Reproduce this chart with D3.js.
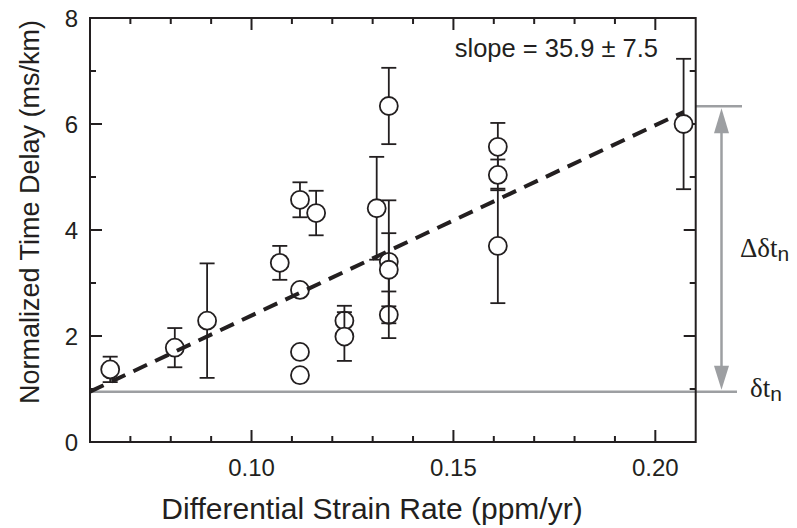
<!DOCTYPE html>
<html>
<head>
<meta charset="utf-8">
<script src="https://cdn.jsdelivr.net/npm/d3@7"></script>
<style>
  html, body { margin: 0; padding: 0; background: #fff; }
  svg { display: block; }
  text { font-family: "Liberation Sans", Arial, Helvetica, sans-serif; fill: #231f20; }
</style>
</head>
<body>
<svg id="chart" width="797" height="528"></svg>
<script>
// ---- data ----
const strainRate = [0.065, 0.081, 0.089, 0.107, 0.112, 0.112, 0.112, 0.112, 0.116, 0.123, 0.123, 0.131, 0.134, 0.134, 0.134, 0.134, 0.161, 0.161, 0.161, 0.207];
const timeDelay  = [1.37, 1.78, 2.29, 3.38, 4.57, 2.87, 1.70, 1.26, 4.32, 2.29, 1.99, 4.41, 6.34, 2.40, 3.40, 3.25, 5.57, 5.04, 3.70, 6.00];
const delayError = [0.24, 0.37, 1.08, 0.32, 0.33, 0, 0, 0, 0.42, 0.28, 0.46, 0.97, 0.72, 0.44, 1.16, 0.69, 0.45, 0.29, 1.08, 1.23];

const xMajorTicks = [0.10, 0.15, 0.20];
const xMinorTicks = [0.07, 0.08, 0.09, 0.11, 0.12, 0.13, 0.14, 0.16, 0.17, 0.18, 0.19];
const yMajorTicks = [0, 2, 4, 6, 8];
const yMinorTicks = [1, 3, 5, 7];

const fitSlope = 35.9;
const fitSlopeError = 7.5;
const baseDelay = 0.95;         // δt_n level (fit value at x = 0.06)
const fitXRange = [0.06, 0.207];

const xTitle = "Differential Strain Rate (ppm/yr)";
const yTitle = "Normalized Time Delay (ms/km)";

// ---- layout ----
const svg = d3.select("#chart");
const L = 90, R = 695.7, T = 18, B = 442;
const x = d3.scaleLinear().domain([0.06, 0.21]).range([L, R]);
const y = d3.scaleLinear().domain([0, 8]).range([B, T]);
const ink = "#231f20";
const grey = "#9d9fa2";
const fitY = v => baseDelay + fitSlope * (v - fitXRange[0]);

// baseline grey line δt_n
svg.append("line")
  .attr("x1", L).attr("x2", 737)
  .attr("y1", y(baseDelay)).attr("y2", y(baseDelay))
  .attr("stroke", grey).attr("stroke-width", 2.5);
// top grey line
svg.append("line")
  .attr("x1", R).attr("x2", 742)
  .attr("y1", y(fitY(0.21))).attr("y2", y(fitY(0.21)))
  .attr("stroke", grey).attr("stroke-width", 2.5);

// arrow
const ax = 721.5;
const yTop = y(fitY(0.21)), yBot = y(baseDelay);
svg.append("line")
  .attr("x1", ax).attr("x2", ax)
  .attr("y1", yTop + 10).attr("y2", yBot - 10)
  .attr("stroke", grey).attr("stroke-width", 2.5);
svg.append("path")
  .attr("d", `M${ax},${yTop + 2} L${ax - 7.5},${yTop + 27} L${ax + 7.5},${yTop + 27} Z`)
  .attr("fill", grey);
svg.append("path")
  .attr("d", `M${ax},${yBot - 2} L${ax - 7.5},${yBot - 26} L${ax + 7.5},${yBot - 26} Z`)
  .attr("fill", grey);

// labels on the right
const serif = "'Liberation Serif', 'Times New Roman', serif";
const lab1 = svg.append("text")
  .attr("x", 740).attr("y", 257)
  .style("font-family", serif).style("font-size", "27px");
lab1.append("tspan").text("\u0394\u03b4t");
lab1.append("tspan").attr("dy", 4).style("font-size", "21px")
  .style("font-family", "'Liberation Sans', Arial, sans-serif").text("n");

const lab2 = svg.append("text")
  .attr("x", 750).attr("y", 397)
  .style("font-family", serif).style("font-size", "27px");
lab2.append("tspan").text("\u03b4t");
lab2.append("tspan").attr("dy", 4).style("font-size", "21px")
  .style("font-family", "'Liberation Sans', Arial, sans-serif").text("n");

// frame
svg.append("rect")
  .attr("x", L).attr("y", T).attr("width", R - L).attr("height", B - T)
  .attr("fill", "none").attr("stroke", ink).attr("stroke-width", 2);

// ticks (inward, all four sides)
const tickG = svg.append("g").attr("stroke", ink).attr("stroke-width", 2);
function xTicks(vals, len) {
  vals.forEach(v => {
    tickG.append("line").attr("x1", x(v)).attr("x2", x(v)).attr("y1", B).attr("y2", B - len);
    tickG.append("line").attr("x1", x(v)).attr("x2", x(v)).attr("y1", T).attr("y2", T + len);
  });
}
function yTicks(vals, len) {
  vals.forEach(v => {
    tickG.append("line").attr("y1", y(v)).attr("y2", y(v)).attr("x1", L).attr("x2", L + len);
    tickG.append("line").attr("y1", y(v)).attr("y2", y(v)).attr("x1", R).attr("x2", R - len);
  });
}
xTicks(xMajorTicks, 12); xTicks(xMinorTicks, 6);
yTicks(yMajorTicks, 12); yTicks(yMinorTicks, 6);

// tick labels
svg.append("g").selectAll("text").data(xMajorTicks).join("text")
  .attr("x", d => x(d)).attr("y", 476)
  .attr("text-anchor", "middle").style("font-size", "24px")
  .text(d => d3.format(".2f")(d));
svg.append("g").selectAll("text").data(yMajorTicks).join("text")
  .attr("x", 78).attr("y", d => y(d) + 8.5)
  .attr("text-anchor", "end").style("font-size", "24px")
  .text(d => d);

// axis titles
svg.append("text")
  .attr("x", 372).attr("y", 519)
  .attr("text-anchor", "middle").style("font-size", "30px")
  .text(xTitle);
svg.append("text")
  .attr("transform", `translate(39,212) rotate(-90)`)
  .attr("text-anchor", "middle").style("font-size", "27px")
  .text(yTitle);

// slope label
svg.append("text")
  .attr("x", 658).attr("y", 57)
  .attr("text-anchor", "end").style("font-size", "25.5px")
  .text(`slope = ${fitSlope} \u00b1 ${fitSlopeError}`);

// data: error bars + circles, drawn in order
const pts = strainRate.map((s, i) => ({ s, t: timeDelay[i], e: delayError[i] }));
const gPts = svg.append("g");
pts.forEach(p => {
  const g = gPts.append("g");
  if (p.e > 0) {
    g.append("line")
      .attr("x1", x(p.s)).attr("x2", x(p.s))
      .attr("y1", y(p.t + p.e)).attr("y2", y(p.t - p.e))
      .attr("stroke", ink).attr("stroke-width", 1.8);
    [p.t + p.e, p.t - p.e].forEach(v => {
      g.append("line")
        .attr("x1", x(p.s) - 7.5).attr("x2", x(p.s) + 7.5)
        .attr("y1", y(v)).attr("y2", y(v))
        .attr("stroke", ink).attr("stroke-width", 1.8);
    });
  }
  g.append("circle")
    .attr("cx", x(p.s)).attr("cy", y(p.t)).attr("r", 9)
    .attr("fill", "#fff").attr("stroke", ink).attr("stroke-width", 1.8);
});

// dashed fit line (on top)
svg.append("line")
  .attr("x1", x(fitXRange[0])).attr("y1", y(fitY(fitXRange[0])))
  .attr("x2", x(fitXRange[1])).attr("y2", y(fitY(fitXRange[1])))
  .attr("stroke", ink).attr("stroke-width", 4)
  .attr("stroke-dasharray", "15,9");
</script>
</body>
</html>
